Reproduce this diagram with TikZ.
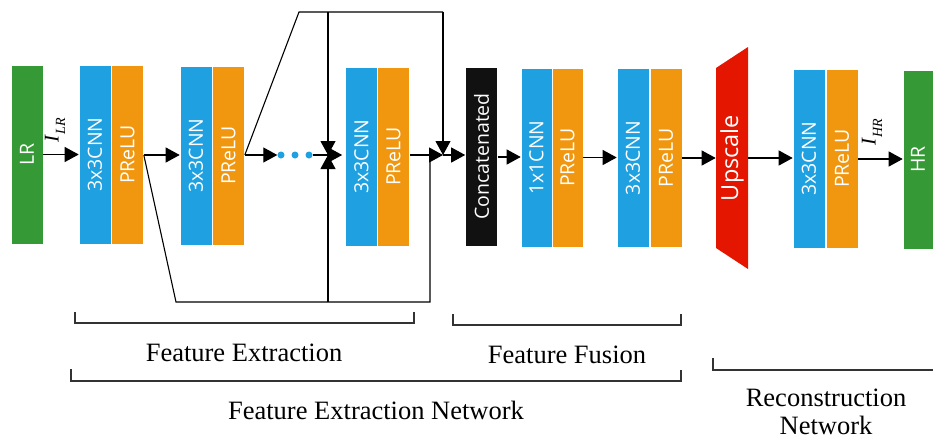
\documentclass[tikz,border=0pt]{standalone}
\usepackage{fontspec}
\usepackage{graphicx}
\setmainfont{Liberation Serif}
\setsansfont{Open Sans}
\usetikzlibrary{arrows.meta}
\definecolor{cnnblue}{RGB}{30,160,225}
\definecolor{reluorange}{RGB}{240,150,15}
\definecolor{lrgreen}{RGB}{53,153,53}
\definecolor{upred}{RGB}{228,22,0}
\definecolor{catblack}{RGB}{17,17,17}
\newcommand{\sublbl}[2]{\textit{#1}\raisebox{-0.3em}{\fontsize{14}{15}\selectfont\itshape #2}}
\begin{document}
\begin{tikzpicture}[x=1pt,y=-1pt,
  box/.style={draw=white, line width=0.6pt, minimum width=32pt, minimum height=179pt, inner sep=0pt, text=white, font=\sffamily\fontsize{19.5}{20}\selectfont},
  conn/.style={line width=1.1pt},
  arr/.style={conn,-{Triangle[length=14pt,width=15pt]}},
  brk/.style={line width=1.1pt, draw=black!80},
  lbl/.style={font=\fontsize{26.5}{30}\selectfont, anchor=base, inner sep=0pt},
  dot/.style={circle, fill=cnnblue, minimum size=7pt, inner sep=0pt},
  io/.style={rotate=90, font=\fontsize{21}{22}\selectfont, inner sep=0pt}]
\useasboundingbox (0,0) rectangle (933,439);

% blocks
\node[box, fill=lrgreen] (lr) at (27,154.5) {\rotatebox{90}{LR}};
\node[box, fill=cnnblue] (b1c) at (95,154.5) {\rotatebox{90}{3x3CNN}};
\node[box, fill=reluorange] (b1p) at (127.5,154.5) {\rotatebox{90}{PReLU}};
\node[box, fill=cnnblue] (b2c) at (196,155.5) {\rotatebox{90}{3x3CNN}};
\node[box, fill=reluorange] (b2p) at (228.5,155.5) {\rotatebox{90}{PReLU}};
\node[box, fill=cnnblue] (b3c) at (361.5,156.5) {\rotatebox{90}{3x3CNN}};
\node[box, fill=reluorange] (b3p) at (393.5,156.5) {\rotatebox{90}{PReLU}};
\node[box, fill=catblack] (cat) at (481.5,156.5) {\rotatebox{90}{Concatenated}};
\node[box, fill=cnnblue, minimum width=31pt] (fc) at (536.5,157.5) {\rotatebox{90}{1x1CNN}};
\node[box, fill=reluorange, minimum width=31pt] (fp) at (567.5,157.5) {\rotatebox{90}{PReLU}};
\node[box, fill=cnnblue] (gc) at (633,158) {\rotatebox{90}{3x3CNN}};
\node[box, fill=reluorange] (gp) at (666,158) {\rotatebox{90}{PReLU}};
\fill[upred] (716,68) -- (748,47) -- (748,269) -- (716,248) -- cycle;
\node[box, draw=none, font=\sffamily\fontsize{23.5}{24}\selectfont] (up) at (732,158) {\rotatebox{90}{Upscale}};
\node[box, fill=cnnblue] (rc) at (809,158.5) {\rotatebox{90}{3x3CNN}};
\node[box, fill=reluorange] (rp) at (842,158.5) {\rotatebox{90}{PReLU}};
\node[box, fill=lrgreen, minimum width=30pt] (hr) at (918,159.5) {\rotatebox{90}{HR}};

% dots
\node[dot] (d1) at (281,155) {};
\node[dot] (d2) at (295,155) {};
\node[dot] (d3) at (309,155) {};

% junction coordinates
\coordinate (j1) at (328,155);
\coordinate (j2) at (443,155);
\coordinate (jb) at (430,155);
\coordinate (t1) at (299,12);
\coordinate (tm) at (328,12);
\coordinate (tr) at (443,12);
\coordinate (s1) at (176,302);
\coordinate (sm) at (328,302);
\coordinate (sr) at (430,302);

% connectors
\draw[arr] (lr.east) -- (lr.east -| b1c.west);
\draw[arr] (b1p.east |- 155,155) -- (b2c.west |- 155,155);
\draw[arr] (b2p.east |- 155,155) -- (d1.west);
\draw[arr, shorten >=3pt] (d3.east) -- (d3 -| b3c.west);
\draw[arr] (b3p.east |- j2) -- (j2);
\draw[arr] (j2) -- (j2 -| cat.west);
\draw[arr] (cat.east |- 157,157) -- (fc.west |- 157,157);
\draw[arr] (fp.east |- 157.5,157.5) -- (gc.west |- 157.5,157.5);
\draw[arr] (gp.east |- 158,158) -- (up.west |- 158,158);
\draw[arr] (up.east |- 158,158) -- (rc.west |- 158,158);
\draw[arr] (rp.east |- 159,159) -- (hr.west |- 159,159);

% skip connections
\draw[conn] (b1p.east |- 155,155) -- (s1) -- (sr) -- (jb);
\draw[arr] (sm) -- (j1);
\draw[conn] (b2p.east |- 155,155) -- (t1) -- (tr);
\draw[arr] (tr) -- (j2);
\draw[arr] (tm) -- (j1);

% io labels
\node[io] (ilr) at (55,130) {\sublbl{I}{LR}};
\node[io] (ihr) at (872,132) {\sublbl{I}{HR}};

% brackets
\draw[brk] (75,312) -- (75,323) -- (414,323) -- (414,312);
\draw[brk] (453,314) -- (453,325) -- (681,325) -- (681,314);
\draw[brk] (71,369) -- (71,381) -- (681,381) -- (681,370);
\draw[brk] (713,358) -- (713,370) -- (933,370);

% texts
\node[lbl] (fe) at (244,361) {Feature Extraction};
\node[lbl] (ff) at (567,363) {Feature Fusion};
\node[lbl] (fen) at (376,419) {Feature Extraction Network};
\node[lbl] (rn1) at (826,406) {Reconstruction};
\node[lbl] (rn2) at (826,434) {Network};
\end{tikzpicture}
\end{document}
